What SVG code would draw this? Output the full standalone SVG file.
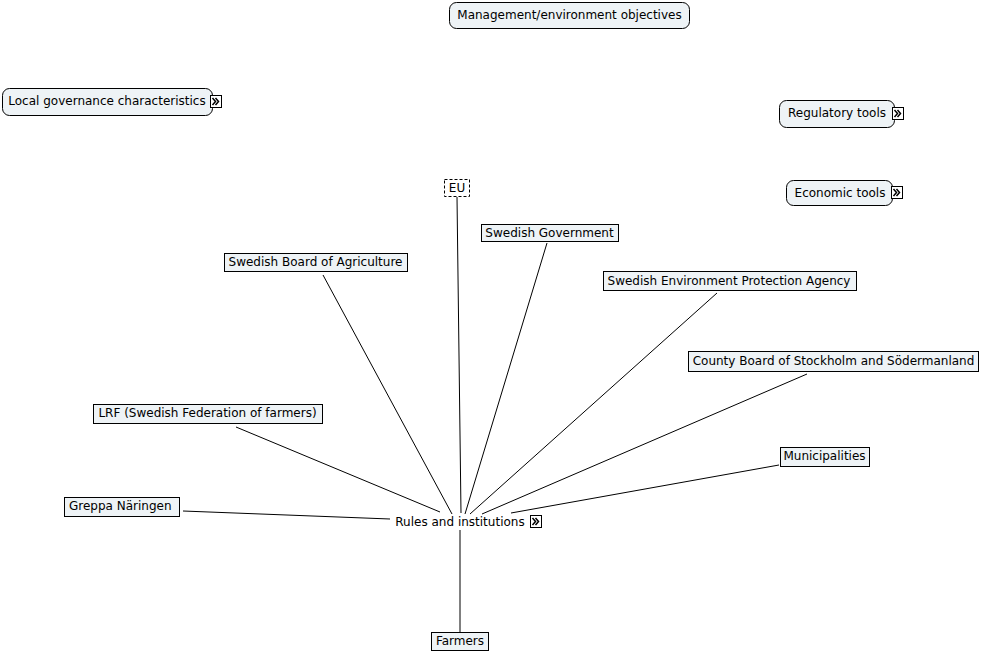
<svg xmlns="http://www.w3.org/2000/svg" width="982" height="651" viewBox="0 0 982 651">
<style>
text{font-family:"DejaVu Sans","Verdana",sans-serif;font-size:12px;fill:#000;text-anchor:middle}
.box{fill:#eef3f6;stroke:#000;stroke-width:1}
.dash{fill:#fff;stroke:#000;stroke-width:1;stroke-dasharray:3,2}
.conn line{stroke:#000;stroke-width:1}
.ic rect{fill:#fff;stroke:#000;stroke-width:1}
.ic path{fill:none;stroke:#000;stroke-width:1.5}
</style>
<defs>
<g id="icon" class="ic"><rect x="0.5" y="0.5" width="11" height="12"/><path d="M2.5,3 L5.5,6.5 L2.5,10 M5.5,3 L8.5,6.5 L5.5,10"/></g>
</defs>
<rect width="982" height="651" fill="#fff"/>
<g id="connectors" class="conn">
<line x1="323" y1="275" x2="452" y2="514"/>
<line x1="457" y1="197" x2="461" y2="513"/>
<line x1="547" y1="243" x2="465" y2="514"/>
<line x1="717" y1="293" x2="470" y2="514"/>
<line x1="807" y1="374" x2="482" y2="514"/>
<line x1="779" y1="465" x2="511" y2="513"/>
<line x1="236" y1="427" x2="440" y2="512"/>
<line x1="183" y1="511" x2="390" y2="519"/>
<line x1="460" y1="530" x2="460" y2="632"/>
</g>
<g id="n-management"><rect class="box" x="449.5" y="2.5" width="240" height="26" rx="7"/><text x="569.5" y="18.5">Management/environment objectives</text></g>
<g id="n-local"><rect class="box" x="2.5" y="88.5" width="210" height="27" rx="7"/><text x="107" y="104.5">Local governance characteristics</text><use href="#icon" x="210" y="95"/></g>
<g id="n-regulatory"><rect class="box" x="779.5" y="100.5" width="115" height="27" rx="7"/><text x="837" y="116.5">Regulatory tools</text><use href="#icon" x="892" y="107"/></g>
<g id="n-economic"><rect class="box" x="786.5" y="180.5" width="106" height="25" rx="7"/><text x="840" y="196.5">Economic tools</text><use href="#icon" x="891" y="186"/></g>
<g id="n-eu"><rect class="dash" x="444.5" y="179.5" width="25" height="17"/><text x="457" y="192">EU</text></g>
<g id="n-gov"><rect class="box" x="481.5" y="224.5" width="137" height="17"/><text x="549.5" y="237">Swedish Government</text></g>
<g id="n-agri"><rect class="box" x="224.5" y="253.5" width="183" height="18"/><text x="315.5" y="266">Swedish Board of Agriculture</text></g>
<g id="n-sepa"><rect class="box" x="603.5" y="271.5" width="253" height="19"/><text x="729" y="285">Swedish Environment Protection Agency</text></g>
<g id="n-county"><rect class="box" x="688.5" y="351.5" width="290" height="20"/><text x="833.5" y="365">County Board of Stockholm and Södermanland</text></g>
<g id="n-lrf"><rect class="box" x="93.5" y="404.5" width="229" height="19"/><text x="207.5" y="417">LRF (Swedish Federation of farmers)</text></g>
<g id="n-muni"><rect class="box" x="780.5" y="447.5" width="89" height="19"/><text x="824.5" y="460">Municipalities</text></g>
<g id="n-greppa"><rect class="box" x="64.5" y="497.5" width="115" height="19"/><text x="69" y="510" style="text-anchor:start">Greppa Näringen</text></g>
<g id="n-rules"><text x="460" y="526">Rules and institutions</text><use href="#icon" x="530" y="515"/></g>
<g id="n-farmers"><rect class="box" x="431.5" y="632.5" width="57" height="18"/><text x="460" y="645">Farmers</text></g>
</svg>
